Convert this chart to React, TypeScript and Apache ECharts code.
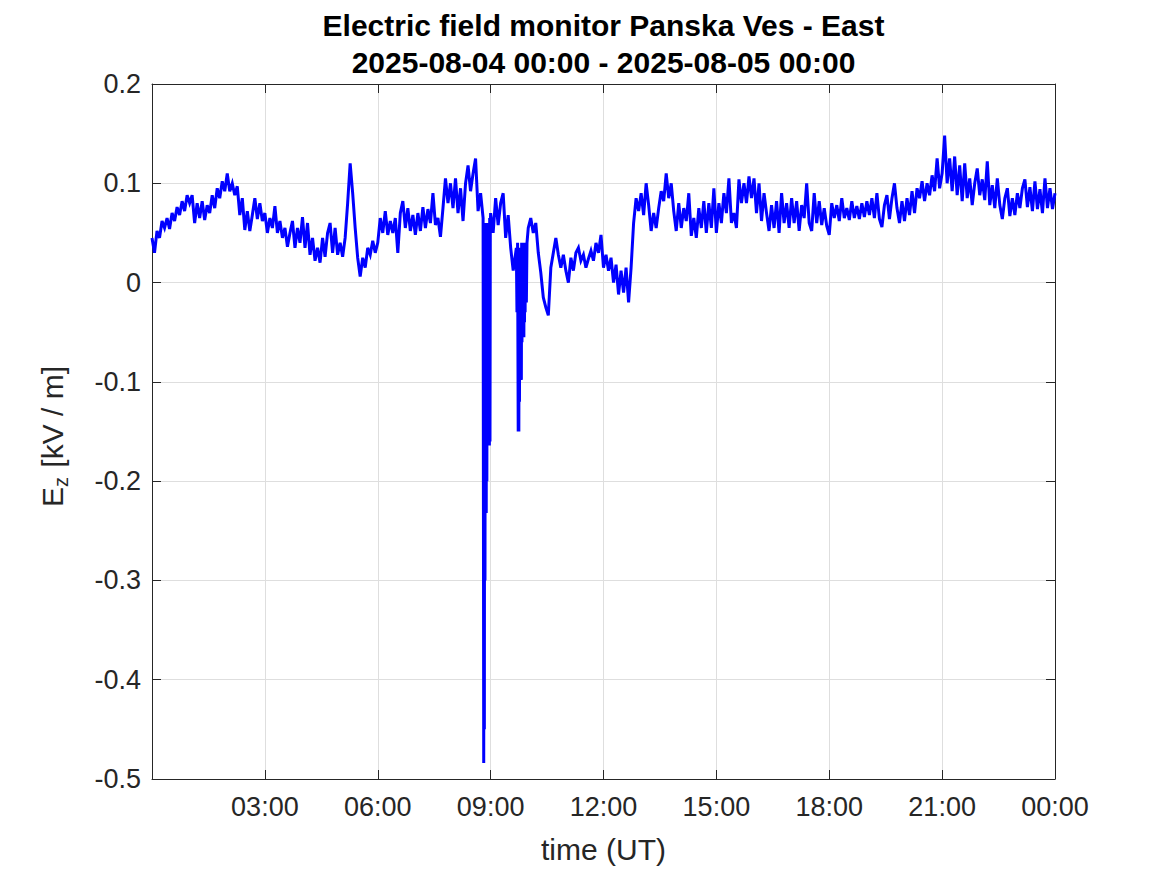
import React, { useEffect, useRef } from "react";
import * as echarts from "echarts";

// Ez [kV/m], sampled every STEP_MIN minutes from 2025-08-04 00:00 (UT)
const STEP_MIN = 4;
const ez: number[] = [
  // 00h
  0.045, 0.03, 0.052, 0.045, 0.062, 0.055, 0.065, 0.054, 0.07, 0.062, 0.076, 0.068, 0.082, 0.072, 0.088,
  // 01h
  0.08, 0.088, 0.06, 0.08, 0.065, 0.082, 0.063, 0.078, 0.07, 0.088, 0.075, 0.095, 0.085, 0.102, 0.092,
  // 02h
  0.11, 0.092, 0.1, 0.088, 0.097, 0.068, 0.085, 0.053, 0.072, 0.052, 0.068, 0.085, 0.064, 0.08, 0.062,
  // 03h
  0.07, 0.05, 0.065, 0.055, 0.077, 0.05, 0.062, 0.045, 0.055, 0.036, 0.05, 0.062, 0.035, 0.055, 0.04,
  // 04h
  0.066, 0.035, 0.06, 0.028, 0.045, 0.022, 0.035, 0.02, 0.045, 0.026, 0.05, 0.06, 0.03, 0.055, 0.028,
  // 05h
  0.04, 0.026, 0.045, 0.08, 0.12, 0.09, 0.055, 0.025, 0.006, 0.025, 0.015, 0.035, 0.028, 0.042, 0.03,
  // 06h
  0.04, 0.065, 0.05, 0.072, 0.048, 0.062, 0.05, 0.065, 0.03, 0.07, 0.082, 0.055, 0.075, 0.052, 0.068,
  // 07h
  0.048, 0.07, 0.052, 0.076, 0.055, 0.074, 0.06, 0.09, 0.058, 0.065, 0.046, 0.075, 0.105, 0.08, 0.1,
  // 08h
  0.075, 0.105, 0.07, 0.095, 0.062, 0.1, 0.118, 0.092, 0.11, 0.125, 0.072, 0.09, 0.065, -0.232, -0.164,
  // 09h
  0.07, 0.05, 0.085, 0.058, 0.08, 0.09, 0.045, 0.068, 0.035, 0.012, 0.03, -0.15, -0.098, -0.05, 0.025,
  // 10h
  0.055, 0.065, 0.05, 0.06, 0.03, 0.01, -0.015, -0.025, -0.033, 0.015, 0.03, 0.045, 0.028, 0.015, 0.028,
  // 11h
  0.012, 0.0, 0.025, 0.012, 0.03, 0.035, 0.022, 0.028, 0.015, 0.024, 0.032, 0.022, 0.04, 0.03, 0.048,
  // 12h
  0.015, 0.028, 0.012, 0.025, 0.0, 0.018, -0.012, 0.012, -0.01, 0.015, -0.02, 0.015, 0.06, 0.085, 0.072,
  // 13h
  0.09, 0.068, 0.1, 0.078, 0.052, 0.07, 0.055, 0.075, 0.092, 0.082, 0.11, 0.085, 0.1, 0.072, 0.052,
  // 14h
  0.08, 0.055, 0.075, 0.062, 0.09, 0.047, 0.065, 0.045, 0.075, 0.055, 0.082, 0.05, 0.08, 0.055, 0.095,
  // 15h
  0.05, 0.08, 0.06, 0.09, 0.07, 0.105, 0.06, 0.07, 0.055, 0.104, 0.08, 0.1, 0.08, 0.107, 0.085,
  // 16h
  0.105, 0.07, 0.1, 0.062, 0.09, 0.07, 0.052, 0.078, 0.055, 0.082, 0.05, 0.09, 0.06, 0.08, 0.055,
  // 17h
  0.085, 0.06, 0.082, 0.052, 0.078, 0.065, 0.1, 0.06, 0.052, 0.09, 0.06, 0.082, 0.058, 0.075, 0.057,
  // 18h
  0.048, 0.08, 0.065, 0.078, 0.062, 0.085, 0.065, 0.075, 0.063, 0.082, 0.065, 0.077, 0.064, 0.08, 0.066,
  // 19h
  0.082, 0.068, 0.085, 0.065, 0.09, 0.064, 0.056, 0.078, 0.088, 0.064, 0.085, 0.1, 0.075, 0.06, 0.082,
  // 20h
  0.062, 0.085, 0.068, 0.092, 0.07, 0.095, 0.085, 0.102, 0.082, 0.1, 0.088, 0.108, 0.092, 0.125, 0.095,
  // 21h
  0.11, 0.148, 0.1, 0.125, 0.092, 0.127, 0.088, 0.118, 0.082, 0.12, 0.085, 0.105, 0.078, 0.1, 0.115,
  // 22h
  0.088, 0.104, 0.083, 0.122, 0.078, 0.098, 0.075, 0.105, 0.078, 0.064, 0.085, 0.095, 0.067, 0.085, 0.068,
  // 23h
  0.09, 0.075, 0.095, 0.104, 0.076, 0.096, 0.072, 0.102, 0.074, 0.094, 0.07, 0.105, 0.075, 0.095, 0.074,
  // 24h
  0.09,
];

// Fine detail around the two sharp negative excursions: [minute, Ez]
const spikeDetail: [number, number][] = [
  [528.5, 0.065], [529, -0.484], [529.5, 0.06], [530, -0.45], [530.5, 0.06], [531, -0.3],
  [531.5, 0.055], [532.5, 0.055], [533, -0.232], [533.5, 0.05], [534, -0.2], [534.5, 0.06],
  [535, -0.164], [535.5, 0.06], [536.5, 0.055], [537, -0.164], [537.5, 0.06], [538, -0.164],
  [538.5, 0.065], [539, -0.16], [539.5, 0.06],
  [581, 0.035], [582, -0.03], [583, 0.04], [584.5, 0.03], [585, -0.15], [585.5, 0.035],
  [586, -0.12], [586.5, 0.03], [587, -0.098], [587.5, 0.035], [588.5, 0.03], [589, -0.098],
  [589.5, 0.04], [590, -0.06], [590.5, 0.03], [591, -0.055], [591.5, 0.035], [592.5, 0.03],
  [593, -0.055], [593.5, 0.04], [594, -0.04], [594.5, 0.035], [595, -0.03], [595.5, 0.03],
  [597, -0.02], [598, 0.04],
];

const titleLines = ["Electric field monitor Panska Ves - East", "2025-08-04 00:00 - 2025-08-05 00:00"];
const xAxisName = "time (UT)";
const yNameParts = ["E", "z", " [kV / m]"];

const AXIS = "#262626";
const GRID = "#dedede";
const FONT = "'Liberation Sans', Arial, Helvetica, sans-serif";

function fmtTime(v: number): string {
  if (v === 0) return "";
  const h = Math.floor(v / 60) % 24;
  const m = Math.round(v % 60);
  return String(h).padStart(2, "0") + ":" + String(m).padStart(2, "0");
}

function tick() {
  return { show: true, inside: true, length: 9, lineStyle: { color: AXIS, width: 1 } };
}
function axisLine() {
  return { show: true, onZero: false, lineStyle: { color: AXIS, width: 1 } };
}

export default function App() {
  const ref = useRef<HTMLDivElement>(null);
  useEffect(() => {
    if (!ref.current) return;
    const chart = echarts.init(ref.current, undefined, { renderer: "svg" });
    const data: [number, number][] = ez
      .map((v, i) => [i * STEP_MIN, v] as [number, number])
      .concat(spikeDetail)
      .sort((a, b) => a[0] - b[0]);

    chart.setOption({
      animation: false,
      backgroundColor: "#ffffff",
      textStyle: { fontFamily: FONT },
      title: {
        text: titleLines.join("\n"),
        left: 603.5,
        top: 7,
        padding: 0,
        textAlign: "center",
        textStyle: {
          fontFamily: FONT,
          fontSize: 30,
          fontWeight: "bold",
          color: "#000000",
          lineHeight: 37,
        },
      },
      grid: { left: 152, right: 112, top: 84, bottom: 96, containLabel: false },
      graphic: [
        {
          type: "group",
          x: 52,
          y: 432,
          rotation: Math.PI / 2,
          children: [
            {
              type: "text",
              x: -75,
              y: 0,
              style: {
                text: yNameParts[0],
                fontFamily: FONT,
                fontSize: 30,
                fill: AXIS,
                textAlign: "left",
                textVerticalAlign: "middle",
              },
            },
            {
              type: "text",
              x: -55,
              y: 9,
              style: {
                text: yNameParts[1],
                fontFamily: FONT,
                fontSize: 20,
                fill: AXIS,
                textAlign: "left",
                textVerticalAlign: "middle",
              },
            },
            {
              type: "text",
              x: -44,
              y: 0,
              style: {
                text: yNameParts[2],
                fontFamily: FONT,
                fontSize: 30,
                fill: AXIS,
                textAlign: "left",
                textVerticalAlign: "middle",
              },
            },
          ],
        },
      ],
      xAxis: [
        {
          type: "value",
          min: 0,
          max: 1440,
          interval: 180,
          position: "bottom",
          name: xAxisName,
          nameLocation: "middle",
          nameGap: 55,
          nameTextStyle: { fontFamily: FONT, fontSize: 30, color: AXIS },
          axisLine: axisLine(),
          axisTick: tick(),
          axisLabel: {
            fontFamily: FONT,
            fontSize: 27,
            color: AXIS,
            margin: 14,
            formatter: fmtTime,
            showMinLabel: true,
            showMaxLabel: true,
          },
          splitLine: { show: true, lineStyle: { color: GRID, width: 1 } },
        },
        {
          type: "value",
          min: 0,
          max: 1440,
          interval: 180,
          position: "top",
          axisLine: axisLine(),
          axisTick: tick(),
          axisLabel: { show: false },
          splitLine: { show: false },
        },
      ],
      yAxis: [
        {
          type: "value",
          min: -0.5,
          max: 0.2,
          interval: 0.1,
          position: "left",
          axisLine: axisLine(),
          axisTick: tick(),
          axisLabel: { fontFamily: FONT, fontSize: 27, color: AXIS, margin: 11 },
          splitLine: { show: true, lineStyle: { color: GRID, width: 1 } },
        },
        {
          type: "value",
          min: -0.5,
          max: 0.2,
          interval: 0.1,
          position: "right",
          axisLine: axisLine(),
          axisTick: tick(),
          axisLabel: { show: false },
          splitLine: { show: false },
        },
      ],
      series: [
        {
          type: "line",
          xAxisIndex: 0,
          yAxisIndex: 0,
          data,
          showSymbol: false,
          symbol: "none",
          lineStyle: { color: "#0000ff", width: 3, join: "miter" },
          z: 1,
        },
      ],
    });
    return () => chart.dispose();
  }, []);

  return (
    <div
      ref={ref}
      style={{ position: "fixed", left: 0, top: 0, width: 1167, height: 875, background: "#fff" }}
    />
  );
}
